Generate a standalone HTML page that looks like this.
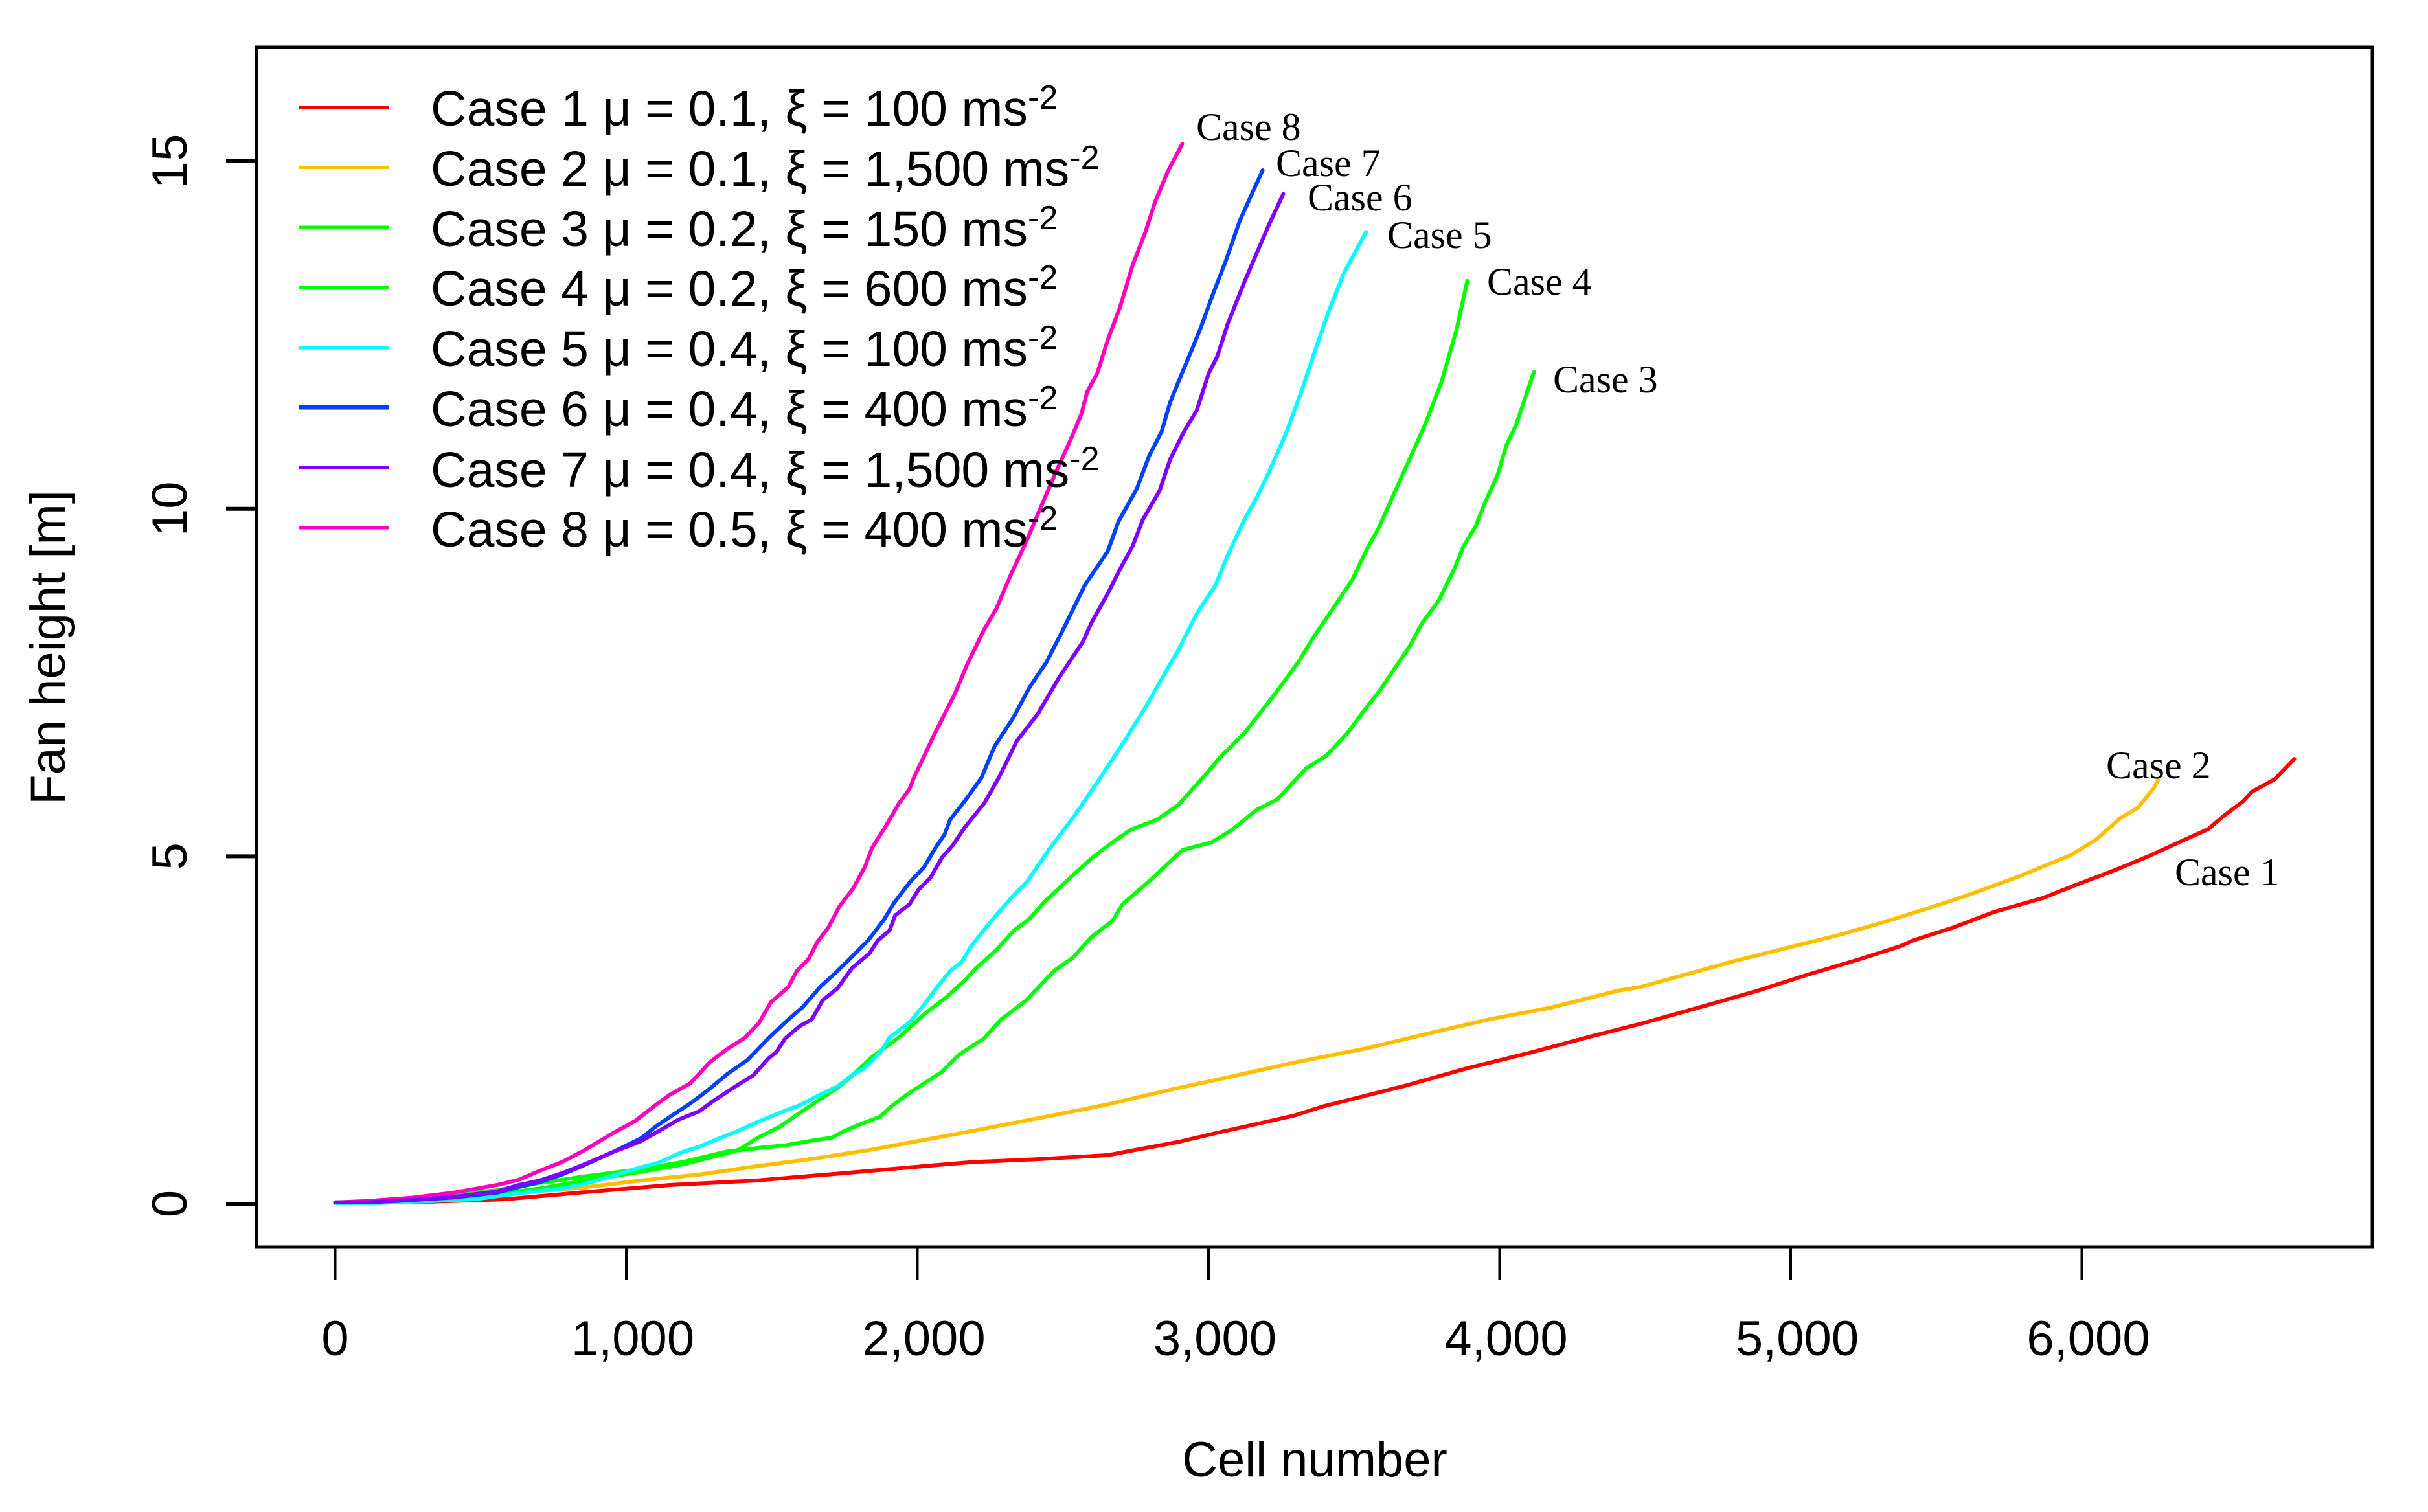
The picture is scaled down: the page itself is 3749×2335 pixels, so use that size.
<!DOCTYPE html>
<html lang="en">
<head>
<meta charset="utf-8">
<title>Fan height vs cell number</title>
<style>
html,body{margin:0;padding:0;background:#fff;}
svg{display:block;}
text{font-family:"Liberation Sans",sans-serif;fill:#000;}
.lg{font-size:77px;}
.sup{font-size:52px;}
.ann{font-family:"Liberation Serif",serif;font-size:60px;}
</style>
</head>
<body>
<svg id="chart" xmlns="http://www.w3.org/2000/svg" width="3749" height="2335" viewBox="0 0 3749 2335">
<rect x="0" y="0" width="3749" height="2335" fill="#fff"/>
<g id="series"></g>
<rect x="396" y="73" width="3267" height="1853" fill="none" stroke="#000" stroke-width="5"/>
<g id="xticks"></g>
<g id="yticks"></g>
<text x="2030" y="2280" font-size="76" text-anchor="middle">Cell number</text>
<text transform="translate(100 1000) rotate(-90)" font-size="76" text-anchor="middle">Fan height [m]</text>
<g id="legend">
<line x1="461" x2="600" y1="166" y2="166" stroke="#ff0000" stroke-width="6"/>
<line x1="461" x2="600" y1="258.5" y2="258.5" stroke="#ffbf00" stroke-width="5"/>
<line x1="461" x2="600" y1="351" y2="351" stroke="#00ff00" stroke-width="5"/>
<line x1="461" x2="600" y1="444" y2="444" stroke="#00ff00" stroke-width="5"/>
<line x1="461" x2="600" y1="537" y2="537" stroke="#00ffff" stroke-width="5"/>
<line x1="461" x2="600" y1="629" y2="629" stroke="#0040ff" stroke-width="7"/>
<line x1="461" x2="600" y1="722" y2="722" stroke="#8000ff" stroke-width="5"/>
<line x1="461" x2="600" y1="815" y2="815" stroke="#ff00bf" stroke-width="5"/>
<text class="lg" x="665" y="194">Case 1 μ = 0.1, ξ = 100 ms<tspan class="sup" dy="-26">-2</tspan></text>
<text class="lg" x="665" y="287">Case 2 μ = 0.1, ξ = 1,500 ms<tspan class="sup" dy="-26">-2</tspan></text>
<text class="lg" x="665" y="380">Case 3 μ = 0.2, ξ = 150 ms<tspan class="sup" dy="-26">-2</tspan></text>
<text class="lg" x="665" y="472">Case 4 μ = 0.2, ξ = 600 ms<tspan class="sup" dy="-26">-2</tspan></text>
<text class="lg" x="665" y="565">Case 5 μ = 0.4, ξ = 100 ms<tspan class="sup" dy="-26">-2</tspan></text>
<text class="lg" x="665" y="658">Case 6 μ = 0.4, ξ = 400 ms<tspan class="sup" dy="-26">-2</tspan></text>
<text class="lg" x="665" y="752">Case 7 μ = 0.4, ξ = 1,500 ms<tspan class="sup" dy="-26">-2</tspan></text>
<text class="lg" x="665" y="844">Case 8 μ = 0.5, ξ = 400 ms<tspan class="sup" dy="-26">-2</tspan></text>
</g>
<g id="annotations">
<text class="ann" x="1847" y="216">Case 8</text>
<text class="ann" x="1970" y="272">Case 7</text>
<text class="ann" x="2019" y="325">Case 6</text>
<text class="ann" x="2142" y="383">Case 5</text>
<text class="ann" x="2296" y="455">Case 4</text>
<text class="ann" x="2398" y="606">Case 3</text>
<text class="ann" x="3252" y="1202">Case 2</text>
<text class="ann" x="3358" y="1367">Case 1</text>
</g>
</svg>
<script>
const xTicks = [0, 1000, 2000, 3000, 4000, 5000, 6000];
const xTickLabels = ['0', '1,000', '2,000', '3,000', '4,000', '5,000', '6,000'];
const yTicks = [0, 5, 10, 15];
const yTickLabels = ['0', '5', '10', '15'];

const case1Cells = [0,333,585,703,852,1150,1448,1746,2045,2187,2409,2654,2897,3039,3179,3295,3393,3506,3677,3889,4102,4316,4485,4698,4890,5061,5230,5379,5421,5555,5700,5867,5975,6120,6229,6338,6434,6487,6554,6585,6663,6730];
const case1Height = [0.02,0.03,0.065,0.11,0.165,0.27,0.335,0.44,0.55,0.6,0.64,0.7,0.89,1.03,1.16,1.27,1.4,1.52,1.7,1.95,2.17,2.41,2.59,2.84,3.07,3.3,3.51,3.71,3.79,3.97,4.2,4.4,4.58,4.81,5,5.21,5.39,5.58,5.79,5.93,6.11,6.4];

const case2Cells = [0,333,630,741,852,1050,1250,1448,1646,1844,1973,2142,2291,2463,2654,2868,3066,3293,3535,3746,3960,4173,4412,4485,4805,5168,5301,5457,5602,5784,5964,6049,6133,6193,6247,6262];
const case2Height = [0.02,0.04,0.17,0.195,0.235,0.335,0.42,0.54,0.65,0.78,0.88,1.01,1.13,1.27,1.43,1.64,1.82,2.03,2.23,2.44,2.65,2.82,3.07,3.12,3.49,3.87,4.03,4.23,4.43,4.71,5.02,5.24,5.55,5.7,5.98,6.1];

const case3Cells = [0,111,333,556,703,852,1050,1199,1348,1388,1468,1546,1626,1706,1746,1795,1871,1904,1964,2045,2085,2142,2229,2287,2372,2472,2534,2598,2670,2705,2812,2910,3010,3081,3166,3237,3337,3406,3477,3535,3591,3649,3691,3733,3791,3846,3875,3918,3947,3993,4024,4056,4118];
const case3Height = [0.02,0.03,0.1,0.195,0.3,0.39,0.5,0.605,0.755,0.77,0.81,0.84,0.9,0.95,1.04,1.13,1.25,1.38,1.57,1.79,1.9,2.14,2.38,2.65,2.92,3.36,3.54,3.84,4.07,4.31,4.7,5.09,5.2,5.38,5.67,5.82,6.27,6.45,6.77,7.1,7.4,7.76,8.02,8.35,8.68,9.15,9.45,9.75,10.06,10.49,10.92,11.2,11.97];

const case4Cells = [0,111,333,556,703,852,1050,1199,1348,1388,1448,1528,1597,1657,1726,1775,1844,1935,2024,2102,2162,2202,2271,2329,2385,2436,2527,2598,2670,2732,2825,2897,2997,3039,3123,3224,3308,3364,3422,3493,3548,3582,3657,3744,3800,3853,3889];
const case4Height = [0.01,0.02,0.07,0.14,0.22,0.33,0.46,0.57,0.73,0.78,0.94,1.11,1.31,1.48,1.67,1.84,2.11,2.39,2.73,2.98,3.21,3.39,3.65,3.92,4.1,4.34,4.7,4.97,5.2,5.38,5.53,5.74,6.21,6.42,6.77,7.31,7.79,8.17,8.53,8.97,9.45,9.7,10.4,11.21,11.82,12.59,13.28];

const case5Cells = [0,147,333,481,630,779,852,952,1030,1110,1190,1250,1319,1379,1448,1528,1597,1666,1726,1775,1815,1875,1904,1973,2013,2065,2113,2153,2182,2244,2329,2378,2456,2541,2627,2712,2783,2839,2897,2961,3023,3066,3123,3166,3208,3264,3321,3364,3413,3464,3541];
const case5Height = [0.01,0.01,0.04,0.065,0.15,0.22,0.28,0.4,0.5,0.59,0.74,0.82,0.94,1.04,1.17,1.31,1.42,1.57,1.69,1.85,1.94,2.19,2.39,2.61,2.81,3.1,3.35,3.48,3.69,4.02,4.43,4.64,5.12,5.59,6.12,6.66,7.14,7.55,7.97,8.5,8.89,9.33,9.84,10.16,10.53,11.06,11.71,12.25,12.84,13.38,13.98];

const case6Cells = [0,111,258,407,556,630,703,779,852,952,1050,1101,1150,1219,1279,1348,1417,1488,1546,1606,1666,1726,1786,1831,1884,1920,1973,2024,2065,2093,2113,2162,2220,2265,2329,2385,2443,2498,2575,2654,2690,2754,2796,2839,2868,2903,2939,2974,3010,3059,3108,3186];
const case6Height = [0.02,0.02,0.05,0.09,0.16,0.24,0.31,0.42,0.55,0.74,0.94,1.11,1.25,1.44,1.63,1.87,2.07,2.38,2.61,2.83,3.12,3.35,3.6,3.79,4.08,4.33,4.62,4.85,5.14,5.31,5.53,5.79,6.13,6.58,6.99,7.43,7.79,8.24,8.9,9.39,9.81,10.29,10.76,11.11,11.53,11.89,12.25,12.61,13.03,13.56,14.15,14.87];

const case7Cells = [0,111,258,407,556,630,703,779,852,952,1050,1101,1179,1250,1299,1368,1437,1488,1517,1546,1597,1637,1675,1726,1775,1835,1864,1904,1924,1973,2004,2045,2084,2122,2162,2231,2282,2342,2414,2485,2569,2598,2654,2696,2739,2774,2832,2868,2917,2959,3001,3030,3066,3123,3166,3208,3257];
const case7Height = [0.02,0.02,0.055,0.1,0.177,0.27,0.335,0.44,0.56,0.74,0.9,1.02,1.21,1.33,1.48,1.67,1.85,2.09,2.19,2.38,2.56,2.65,2.93,3.1,3.39,3.6,3.79,3.93,4.15,4.31,4.52,4.69,4.98,5.16,5.41,5.77,6.15,6.66,7.05,7.56,8.09,8.36,8.78,9.13,9.46,9.84,10.26,10.71,11.12,11.41,11.95,12.19,12.66,13.26,13.68,14.09,14.53];

const case8Cells = [0,111,258,407,556,630,703,779,852,952,1030,1101,1150,1219,1288,1348,1408,1457,1497,1557,1586,1626,1657,1695,1731,1780,1820,1844,1891,1935,1973,1989,2058,2129,2171,2229,2271,2320,2372,2427,2476,2527,2563,2583,2618,2654,2696,2739,2783,2816,2861,2910];
const case8Height = [0.02,0.04,0.085,0.16,0.27,0.345,0.475,0.6,0.76,1.01,1.19,1.42,1.57,1.73,2.04,2.23,2.39,2.61,2.9,3.12,3.35,3.52,3.77,3.98,4.27,4.54,4.85,5.12,5.43,5.75,5.97,6.14,6.75,7.34,7.76,8.26,8.56,9.04,9.51,10.05,10.53,11,11.36,11.68,11.95,12.43,12.9,13.5,13.98,14.41,14.86,15.25];

const seriesColors = ['#ff0000', '#ffbf00', '#00ff00', '#00ff00', '#ff00bf', '#00ffff', '#0040ff', '#8000ff'];
const seriesNames = ['case-1', 'case-2', 'case-3', 'case-4', 'case-8', 'case-5', 'case-6', 'case-7'];
const seriesCells = [case1Cells, case2Cells, case3Cells, case4Cells, case8Cells, case5Cells, case6Cells, case7Cells];
const seriesHeight = [case1Height, case2Height, case3Height, case4Height, case8Height, case5Height, case6Height, case7Height];

const NS = 'http://www.w3.org/2000/svg';
function xScale(v) { return 517.5 + v * 0.4495; }
function yScale(v) { return 1859 - v * 107.33; }
function mk(tag, parent) {
  const el = document.createElementNS(NS, tag);
  parent.appendChild(el);
  return el;
}

const seriesG = document.getElementById('series');
seriesCells.forEach(function (cells, i) {
  const heights = seriesHeight[i];
  let d = '';
  cells.forEach(function (c, j) {
    d += (j ? 'L' : 'M') + xScale(c).toFixed(1) + ' ' + yScale(heights[j]).toFixed(1);
  });
  const p = mk('path', seriesG);
  
  
  p.setAttribute('d', d);
  p.setAttribute('fill', 'none');
  p.setAttribute('stroke', seriesColors[i]);
  p.setAttribute('stroke-width', '6');
  p.setAttribute('stroke-linejoin', 'round');
  p.setAttribute('stroke-linecap', 'round');
});

const xG = document.getElementById('xticks');
xTicks.forEach(function (v, i) {
  const t = mk('line', xG);
  
  
  t.setAttribute('x1', xScale(v));
  t.setAttribute('x2', xScale(v));
  t.setAttribute('y1', 1926);
  t.setAttribute('y2', 1976);
  t.setAttribute('stroke', '#000');
  t.setAttribute('stroke-width', '4');
  const l = mk('text', xG);
  
  
  l.setAttribute('x', xScale(v) + (v > 0 ? 10 : 0));
  l.setAttribute('y', 2093);
  l.setAttribute('font-size', '76');
  l.setAttribute('text-anchor', 'middle');
  l.textContent = xTickLabels[i];
});

const yG = document.getElementById('yticks');
yTicks.forEach(function (v, i) {
  const t = mk('line', yG);
  
  
  t.setAttribute('x1', 349);
  t.setAttribute('x2', 396);
  t.setAttribute('y1', yScale(v));
  t.setAttribute('y2', yScale(v));
  t.setAttribute('stroke', '#000');
  t.setAttribute('stroke-width', '6');
  const l = mk('text', yG);
  
  
  l.setAttribute('transform', 'translate(288 ' + yScale(v) + ') rotate(-90)');
  l.setAttribute('font-size', '76');
  l.setAttribute('text-anchor', 'middle');
  l.textContent = yTickLabels[i];
});
</script>
</body>
</html>
